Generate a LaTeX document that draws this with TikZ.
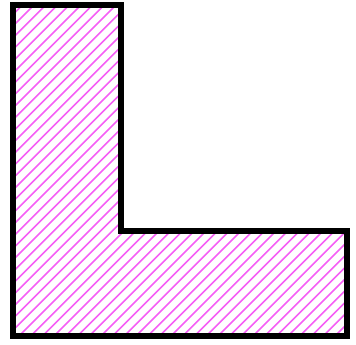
\documentclass[tikz,border=0pt]{standalone}
\definecolor{hatch}{RGB}{245,95,245}
\begin{document}
\begin{tikzpicture}[x=1pt,y=-1pt,
  outline/.style={draw=black,line width=5.5pt,line join=miter},
  hatchline/.style={draw=hatch,line width=1.6pt}]
\useasboundingbox (0,0) rectangle (356,345);
\begin{scope}
\clip (13,5) -- (121,5) -- (121,231) -- (347,231) -- (347,336) -- (13,336) -- cycle;
\foreach \i in {0,...,62} {
  \pgfmathsetmacro{\c}{\i*11.7+4}
  \draw[hatchline] (\c,0) -- (\c-360,360);
}
\end{scope}
\draw[outline] (13,5) -- (121,5) -- (121,231) -- (347,231) -- (347,336) -- (13,336) -- cycle;
\end{tikzpicture}
\end{document}
